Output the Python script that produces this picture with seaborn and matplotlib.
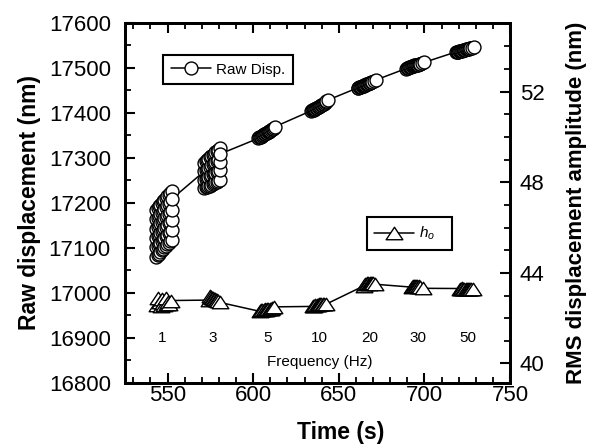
import matplotlib
matplotlib.use('Agg')
import matplotlib.pyplot as plt
import seaborn as sns
import pandas as pd
from matplotlib.ticker import MultipleLocator
from matplotlib.path import Path
from matplotlib.lines import Line2D

sns.set_style('ticks', {'axes.edgecolor': 'black', 'xtick.color': 'black', 'ytick.color': 'black',
                        'text.color': 'black', 'axes.labelcolor': 'black'})
plt.rcParams['font.family'] = ['Liberation Sans', 'DejaVu Sans']
plt.rcParams['mathtext.fontset'] = 'custom'
plt.rcParams['mathtext.it'] = 'Liberation Sans:italic'
plt.rcParams['mathtext.rm'] = 'Liberation Sans'

# ---------------- data ----------------
freq_labels = ['1', '3', '5', '10', '20', '30', '50']
freq_label_time = [546.6, 576.6, 608.7, 638.8, 667.9, 696.1, 725.2]

raw_t_1hz = ([543.4] * 6 + [544.2] * 6 + [545.0] * 6 + [545.8] * 6 + [546.6] * 6 + [547.4] * 6 +
             [548.2] * 6 + [549.0] * 6 + [549.8] * 6 + [550.6] * 6 + [551.4] * 6 + [552.4] * 6)
raw_v_1hz = [17080, 17101, 17122, 17142, 17163, 17184,
             17083, 17104, 17125, 17146, 17167, 17188,
             17087, 17108, 17129, 17150, 17171, 17192,
             17090, 17111, 17132, 17154, 17175, 17196,
             17094, 17115, 17136, 17157, 17178, 17199,
             17097, 17119, 17140, 17161, 17182, 17203,
             17101, 17122, 17144, 17165, 17186, 17207,
             17104, 17126, 17147, 17169, 17190, 17211,
             17108, 17129, 17151, 17172, 17194, 17214,
             17111, 17133, 17154, 17176, 17197, 17218,
             17115, 17136, 17158, 17180, 17201, 17222,
             17118, 17140, 17162, 17183, 17226, 17208]

raw_t_3hz = ([571.5] * 4 + [572.3] * 4 + [573.1] * 4 + [573.9] * 4 + [574.7] * 4 + [575.5] * 4 +
             [576.3] * 4 + [577.1] * 4 + [577.9] * 4 + [578.7] * 4 + [579.5] * 4 + [580.5] * 5)
raw_v_3hz = [17270, 17232, 17251, 17289,
             17234, 17253, 17273, 17292,
             17235, 17255, 17275, 17295,
             17237, 17257, 17278, 17298,
             17238, 17259, 17280, 17301,
             17240, 17261, 17283, 17304,
             17242, 17263, 17285, 17306,
             17243, 17265, 17288, 17309,
             17245, 17267, 17290, 17312,
             17246, 17269, 17293, 17315,
             17248, 17271, 17295, 17318,
             17250, 17272, 17290, 17321, 17308]

raw_t_5hz = [603.0, 603.5, 604.0, 604.5, 605.0, 605.5, 606.0, 606.5, 607.0, 607.5,
             608.0, 608.5, 609.0, 609.5, 610.0, 610.5, 611.0, 611.5, 612.0, 612.8]
raw_v_5hz = [17343, 17345, 17346, 17347, 17348, 17350, 17350, 17352, 17353, 17354,
             17355, 17357, 17358, 17359, 17360, 17362, 17363, 17364, 17366, 17369]

raw_t_10hz = [633.8, 634.3, 634.8, 635.3, 635.8, 636.3, 636.8, 637.3, 637.8, 638.3,
              638.8, 639.3, 639.8, 640.3, 640.8, 641.3, 641.8, 642.3, 642.8, 643.6]
raw_v_10hz = [17404, 17405, 17406, 17407, 17408, 17409, 17410, 17411, 17412, 17413,
              17414, 17416, 17417, 17418, 17419, 17420, 17422, 17423, 17425, 17428]

raw_t_20hz = [661.0, 661.5, 662.0, 662.5, 663.0, 663.5, 664.0, 664.5, 665.0, 665.5,
              666.0, 666.5, 667.0, 667.5, 668.0, 668.5, 669.0, 669.5, 670.3, 671.8]
raw_v_20hz = [17455, 17456, 17457, 17457, 17458, 17459, 17460, 17460, 17461, 17462,
              17463, 17464, 17464, 17465, 17466, 17467, 17468, 17469, 17470, 17473]

raw_t_30hz = [689.2, 689.7, 690.2, 690.7, 691.2, 691.7, 692.2, 692.7, 693.2, 693.7,
              694.2, 694.7, 695.2, 695.7, 696.2, 696.7, 697.2, 697.7, 698.4, 700.0]
raw_v_30hz = [17498, 17499, 17499, 17500, 17501, 17501, 17502, 17503, 17503, 17504,
              17505, 17505, 17506, 17507, 17507, 17508, 17509, 17509, 17510, 17512]

raw_t_50hz = [718.4, 718.9, 719.4, 719.9, 720.4, 720.9, 721.4, 721.9, 722.4, 722.9,
              723.4, 723.9, 724.4, 724.9, 725.4, 725.9, 726.4, 726.9, 727.6, 729.1]
raw_v_50hz = [17535, 17535, 17536, 17536, 17537, 17537, 17538, 17538, 17539, 17539,
              17540, 17540, 17541, 17541, 17542, 17542, 17543, 17543, 17544, 17545]

ho_t_1hz = [544.0, 544.7, 545.4, 546.1, 546.8, 547.5, 548.2, 548.9, 549.6, 550.3, 551.0, 551.8]
ho_v_1hz = [42.58, 42.90, 42.70, 42.55, 42.86, 42.66, 42.60, 42.88, 42.62, 42.72, 42.64, 42.78]
ho_t_3hz = [574.0, 574.6, 575.2, 575.8, 576.4, 577.0, 577.6, 578.2, 578.8, 579.4, 580.4]
ho_v_3hz = [42.80, 42.96, 42.94, 42.90, 42.88, 42.86, 42.84, 42.82, 42.80, 42.76, 42.70]
ho_t_5hz = [604.0, 604.7, 605.4, 606.1, 606.8, 607.5, 608.2, 608.9, 609.6, 610.3, 611.0, 612.0]
ho_v_5hz = [42.30, 42.34, 42.38, 42.36, 42.40, 42.37, 42.41, 42.39, 42.42, 42.40, 42.44, 42.50]
ho_t_10hz = [635.0, 635.7, 636.4, 637.1, 637.8, 638.5, 639.2, 639.9, 640.6, 641.3, 642.6]
ho_v_10hz = [42.52, 42.55, 42.58, 42.60, 42.59, 42.62, 42.61, 42.63, 42.62, 42.64, 42.62]
ho_t_20hz = [665.0, 665.6, 666.2, 666.8, 667.4, 668.0, 668.6, 669.2, 669.8, 671.2]
ho_v_20hz = [43.44, 43.50, 43.54, 43.56, 43.53, 43.55, 43.57, 43.54, 43.55, 43.50]
ho_t_30hz = [692.8, 693.4, 694.0, 694.6, 695.2, 695.8, 696.4, 697.0, 697.6, 699.0]
ho_v_30hz = [43.37, 43.42, 43.40, 43.44, 43.41, 43.43, 43.38, 43.40, 43.36, 43.32]
ho_t_50hz = [721.0, 721.6, 722.2, 722.8, 723.4, 724.0, 724.6, 725.2, 725.8, 726.4, 727.0, 728.6]
ho_v_50hz = [43.31, 43.30, 43.32, 43.31, 43.29, 43.30, 43.31, 43.29, 43.30, 43.28, 43.29, 43.27]

raw_df = pd.DataFrame({
    'time': raw_t_1hz + raw_t_3hz + raw_t_5hz + raw_t_10hz + raw_t_20hz + raw_t_30hz + raw_t_50hz,
    'disp': raw_v_1hz + raw_v_3hz + raw_v_5hz + raw_v_10hz + raw_v_20hz + raw_v_30hz + raw_v_50hz,
})
ho_df = pd.DataFrame({
    'time': ho_t_1hz + ho_t_3hz + ho_t_5hz + ho_t_10hz + ho_t_20hz + ho_t_30hz + ho_t_50hz,
    'ho': ho_v_1hz + ho_v_3hz + ho_v_5hz + ho_v_10hz + ho_v_20hz + ho_v_30hz + ho_v_50hz,
})

# ---------------- figure ----------------
fig = plt.figure(figsize=(5.91, 4.47), dpi=100)
ax = fig.add_axes([0.211, 0.1438, 0.652, 0.8054])
ax2 = ax.twinx()

tri = Path([(-1.0, -0.75), (1.0, -0.75), (0.0, 0.75), (-1.0, -0.75)],
           [Path.MOVETO, Path.LINETO, Path.LINETO, Path.CLOSEPOLY])

circ_style = dict(color='black', lw=1.1, marker='o', markersize=9.3,
                  markerfacecolor='white', markeredgecolor='black', markeredgewidth=1.0)
tri_style = dict(color='black', lw=1.1, marker=tri, markersize=12,
                 markerfacecolor='white', markeredgecolor='black', markeredgewidth=1.0)

sns.lineplot(data=raw_df, x='time', y='disp', sort=False, estimator=None, ax=ax,
             legend=False, **circ_style)
sns.lineplot(data=ho_df, x='time', y='ho', sort=False, estimator=None, ax=ax2,
             legend=False, **tri_style)

ax.set_xlim(525, 750)
ax.set_ylim(16800, 17600)
ax2.set_ylim(39.15, 55.05)

ax.xaxis.set_major_locator(MultipleLocator(50))
ax.xaxis.set_minor_locator(MultipleLocator(10))
ax.yaxis.set_major_locator(MultipleLocator(100))
ax.yaxis.set_minor_locator(MultipleLocator(50))
ax2.yaxis.set_major_locator(MultipleLocator(4))
ax2.yaxis.set_minor_locator(MultipleLocator(1))

for a in (ax, ax2):
    for s in a.spines.values():
        s.set_linewidth(2.0)
        s.set_color('black')

ax.tick_params(which='major', direction='in', length=7, width=1.5, labelsize=16,
               top=True, right=False)
ax.tick_params(which='minor', direction='in', length=4, width=1.3, top=True, right=False)
ax.tick_params(axis='y', which='major', pad=10)
ax.tick_params(axis='x', which='major', pad=2)
ax2.tick_params(axis='y', which='major', direction='in', length=7, width=1.5, labelsize=16, pad=7)
ax2.tick_params(axis='y', which='minor', direction='in', length=4, width=1.3)

ax.set_xlabel('Time (s)', fontsize=16.5, fontweight='bold')
ax.set_ylabel('Raw displacement (nm)', fontsize=16.5, fontweight='bold')
ax2.set_ylabel('RMS displacement amplitude (nm)', fontsize=16, fontweight='bold')
ax.xaxis.set_label_coords(0.561, -0.105)
ax.yaxis.set_label_coords(-0.218, 0.5)
ax2.yaxis.set_label_coords(1.145, 0.5)

# frequency annotations
for lab, t in zip(freq_labels, freq_label_time):
    ax.text(t, 16899, lab, ha='center', va='center', fontsize=11)
ax.text(638.8, 16847, 'Frequency (Hz)', ha='center', va='center', fontsize=11)

# legends
h1 = Line2D([], [], **circ_style)
h2 = Line2D([], [], **tri_style)
leg_kw = dict(frameon=True, fancybox=False, framealpha=1, edgecolor='black', fontsize=11,
              handlelength=2.6, handletextpad=0.35, borderpad=0.5, borderaxespad=0, loc='upper left')
leg1 = ax2.legend([h1], ['Raw Disp.'], bbox_to_anchor=(0.100, 0.910), **leg_kw)
leg1.get_frame().set_linewidth(1.5)
ax2.add_artist(leg1)
leg2 = ax2.legend([h2], [r'$h_o$' + '   '], bbox_to_anchor=(0.628, 0.4594), **leg_kw)
leg2.get_frame().set_linewidth(1.5)

fig.savefig('out.png', dpi=100)
